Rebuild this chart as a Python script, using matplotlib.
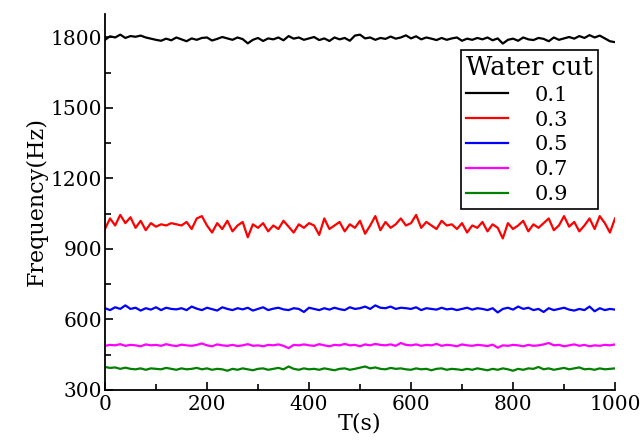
import numpy as np
import matplotlib
matplotlib.use('Agg')
import matplotlib.pyplot as plt
from matplotlib.ticker import MultipleLocator

plt.rcParams['font.family'] = ['DejaVu Serif']

# time axis, one reading every 10 s
t = list(range(0, 1001, 10))

# frequency readings (Hz) for each water cut
f_01 = [1790, 1805, 1800, 1812, 1798, 1806, 1803, 1808, 1800, 1795,
        1790, 1786, 1795, 1788, 1800, 1792, 1784, 1796, 1790, 1798,
        1800, 1787, 1794, 1802, 1796, 1790, 1800, 1793, 1775, 1790,
        1798, 1785, 1796, 1792, 1800, 1788, 1806, 1795, 1800, 1790,
        1796, 1802, 1789, 1796, 1785, 1800, 1792, 1798, 1786, 1808,
        1812, 1796, 1800, 1790, 1798, 1794, 1804, 1795, 1800, 1809,
        1796, 1805, 1792, 1800, 1795, 1789, 1798, 1790, 1796, 1800,
        1786, 1795, 1790, 1798, 1792, 1800, 1788, 1796, 1774, 1790,
        1795, 1786, 1800, 1792, 1789, 1798, 1794, 1784, 1800, 1790,
        1796, 1802, 1795, 1806, 1798, 1810, 1800, 1808, 1796, 1784,
        1780]
f_03 = [985, 1030, 1000, 1045, 1010, 1035, 990, 1020, 980, 1010,
        995, 1005, 1000, 1010, 1005, 1000, 1015, 985, 1030, 1040,
        1000, 970, 1010, 985, 1020, 975, 1000, 1015, 950, 1005,
        990, 1010, 975, 1000, 985, 1020, 995, 970, 1005, 990,
        1010, 1000, 960, 1030, 985, 1000, 1015, 975, 1005, 990,
        1020, 965, 1000, 1040, 980, 1015, 990, 1005, 1030, 1000,
        1010, 1045, 990, 1015, 1000, 985, 1020, 1000, 1005, 985,
        1010, 970, 1000, 990, 1015, 975, 1005, 990, 945, 1010,
        985, 1000, 1020, 975, 1005, 990, 1010, 1030, 980, 1000,
        1040, 995, 1015, 975, 1000, 1030, 985, 1040, 1010, 970,
        1030]
f_05 = [648, 640, 652, 645, 660, 645, 650, 638, 648, 642,
        652, 640, 650, 645, 643, 648, 640, 655, 646, 640,
        650, 644, 638, 652, 645, 640, 648, 643, 650, 638,
        645, 652, 640, 646, 650, 643, 640, 648, 645, 632,
        650, 645, 640, 648, 642, 650, 644, 640, 652, 645,
        648, 655, 645, 660, 650, 648, 655, 645, 650, 648,
        645, 652, 640, 648, 645, 642, 650, 643, 646, 640,
        645, 650, 642, 648, 645, 640, 648, 630, 645, 650,
        642, 655, 645, 650, 640, 645, 632, 648, 640, 645,
        650, 642, 638, 645, 640, 655, 635, 648, 640, 645,
        642]
f_07 = [488, 492, 490, 495, 488, 492, 490, 486, 494, 490,
        492, 488, 495, 490, 487, 493, 490, 488, 492, 498,
        490, 486, 494, 490, 488, 492, 487, 490, 495, 488,
        490, 486, 492, 490, 494, 488, 478, 492, 490, 494,
        490, 488, 495, 490, 486, 492, 490, 496, 490, 492,
        486, 494, 490, 496, 492, 490, 494, 488, 500, 492,
        490, 494, 488, 492, 490, 496, 488, 492, 490, 486,
        494, 490, 488, 492, 490, 487, 493, 480, 490, 488,
        492, 490, 486, 492, 488, 490, 494, 500, 490, 492,
        486, 490, 494, 488, 492, 486, 490, 488, 492, 490,
        494]
f_09 = [398, 394, 396, 390, 395, 390, 388, 392, 386, 392,
        390, 388, 394, 390, 386, 392, 388, 390, 394, 388,
        392, 386, 390, 388, 382, 390, 386, 392, 388, 384,
        390, 392, 386, 390, 394, 388, 400, 390, 386, 392,
        388, 390, 386, 392, 388, 384, 390, 392, 386, 390,
        395, 400, 392, 396, 390, 388, 394, 390, 392, 388,
        386, 392, 388, 390, 384, 390, 392, 386, 390, 388,
        385, 390, 386, 392, 388, 384, 390, 386, 392, 388,
        382, 390, 386, 392, 390, 398, 388, 392, 386, 390,
        394, 388, 392, 396, 388, 390, 386, 392, 388, 390,
        392]

labels = ['0.1', '0.3', '0.5', '0.7', '0.9']
colors = ['black', 'red', 'blue', 'magenta', 'green']

fig = plt.figure(figsize=(6.4, 4.45), dpi=100)
ax = fig.add_axes([0.164, 0.1236, 0.797, 0.845])

for y, lab, c in zip([f_01, f_03, f_05, f_07, f_09], labels, colors):
    ax.plot(t, y, color=c, lw=1.6, label=lab)

ax.set_xlim(0, 1000)
ax.set_ylim(300, 1900)
ax.set_yticks([300, 600, 900, 1200, 1500, 1800])
ax.xaxis.set_major_locator(MultipleLocator(200))
ax.xaxis.set_minor_locator(MultipleLocator(100))
ax.yaxis.set_minor_locator(MultipleLocator(150))
ax.tick_params(which='both', direction='in', labelsize=14.5, width=1.2)
ax.tick_params(axis='y', pad=2)
ax.tick_params(which='major', length=6)
ax.tick_params(which='minor', length=4)
ax.spines['top'].set_visible(False)
ax.spines['right'].set_visible(False)
ax.spines['left'].set_linewidth(1.3)
ax.spines['bottom'].set_linewidth(1.3)

ax.set_xlabel('T(s)', fontsize=16, labelpad=-1)
ax.set_ylabel('Frequency(Hz)', fontsize=16, labelpad=2)

leg = ax.legend(title='Water cut', loc='upper right', bbox_to_anchor=(0.967, 0.905),
                fontsize=15, title_fontsize=18.5, frameon=True, fancybox=False,
                edgecolor='black', framealpha=1, handlelength=2.0,
                handletextpad=1.3, labelspacing=0.28, borderpad=0.25,
                borderaxespad=0)
leg.get_frame().set_linewidth(1.2)
leg._legend_box.align = 'left'

fig.savefig('out.png', dpi=100)
